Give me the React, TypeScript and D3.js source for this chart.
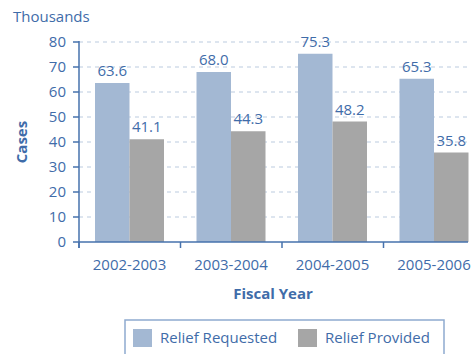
import React from "react";
import * as d3 from "d3";

const categories = ["2002-2003", "2003-2004", "2004-2005", "2005-2006"];
const requested = [63.6, 68.0, 75.3, 65.3];
const provided = [41.1, 44.3, 48.2, 35.8];
const yTicks = [0, 10, 20, 30, 40, 50, 60, 70, 80];
const seriesNames = ["Relief Requested", "Relief Provided"];

const W = 474;
const H = 354;
const TEXT = "#3f6ca9";
const AXIS = "#4672ad";
const BLUE = "#a3b8d3";
const GRAY = "#a6a6a6";
const GRID = "#bccbe0";
const FONT = "'Open Sans', sans-serif";

export default function App() {
  const x0 = 79;
  const xEnd = 468;
  const y = d3.scaleLinear().domain([0, 80]).range([242, 42]);
  const x = d3.scaleBand<string>().domain(categories).range([x0, x0 + 406]).paddingInner(0).paddingOuter(0);
  const sub = d3.scaleBand<number>().domain([0, 1]).range([16, 16 + 69]);
  const series = [requested, provided];
  const colors = [BLUE, GRAY];

  return (
    <svg width={W} height={H} style={{ position: "absolute", left: 0, top: 0, background: "#fff" }} fontFamily={FONT}>
      <text x={13} y={22} fontSize={15} fill={TEXT}>Thousands</text>
      {yTicks.filter((t) => t > 0).map((t) => (
        <line key={"g" + t} x1={x0} x2={xEnd} y1={y(t)} y2={y(t)} stroke={GRID} strokeWidth={1.2} strokeDasharray="4,4" />
      ))}
      {series.map((vals, si) =>
        vals.map((v, i) => (
          <rect key={`b${si}-${i}`} x={(x(categories[i]) as number) + (sub(si) as number)} y={y(v)} width={sub.bandwidth()} height={y(0) - y(v)} fill={colors[si]} />
        ))
      )}
      {series.map((vals, si) =>
        vals.map((v, i) => (
          <text key={`l${si}-${i}`} x={(x(categories[i]) as number) + (sub(si) as number) + sub.bandwidth() / 2} y={y(v) - 7} textAnchor="middle" fontSize={15} fill={TEXT}>
            {v.toFixed(1)}
          </text>
        ))
      )}
      <line x1={x0} x2={x0} y1={y(80) - 1} y2={y(0) + 6} stroke={AXIS} strokeWidth={1.5} />
      <line x1={x0} x2={xEnd} y1={y(0)} y2={y(0)} stroke={AXIS} strokeWidth={1.5} />
      {yTicks.map((t) => (
        <g key={"t" + t}>
          <line x1={x0 - 6} x2={x0} y1={y(t)} y2={y(t)} stroke={AXIS} strokeWidth={1.5} />
          <text x={66} y={y(t) + 5} textAnchor="end" fontSize={15} fill={TEXT}>{t}</text>
        </g>
      ))}
      {categories.map((c) => (
        <g key={"x" + c}>
          <line x1={x(c) as number} x2={x(c) as number} y1={y(0)} y2={y(0) + 6} stroke={AXIS} strokeWidth={1.5} />
          <text x={(x(c) as number) + 16 + 34.5} y={270} textAnchor="middle" fontSize={15} fill={TEXT}>{c}</text>
        </g>
      ))}
      <text transform={`translate(27,142) rotate(-90)`} textAnchor="middle" fontSize={15} fontWeight="bold" fill={TEXT}>Cases</text>
      <text x={273} y={299} textAnchor="middle" fontSize={15} fontWeight="bold" fill={TEXT}>Fiscal Year</text>
      <rect x={125} y={320} width={319} height={45} fill="none" stroke="#8eaacf" strokeWidth={1.5} />
      <rect x={133} y={329} width={19} height={18} fill={BLUE} />
      <text x={160} y={343} fontSize={15} fill={TEXT}>{seriesNames[0]}</text>
      <rect x={298} y={329} width={19} height={18} fill={GRAY} />
      <text x={325} y={343} fontSize={15} fill={TEXT}>{seriesNames[1]}</text>
    </svg>
  );
}
